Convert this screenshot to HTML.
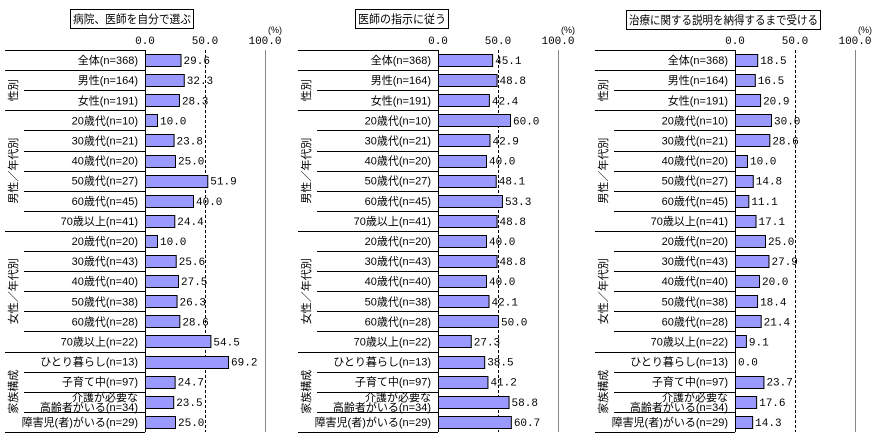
<!DOCTYPE html>
<html><head><meta charset="utf-8">
<style>
html,body{margin:0;padding:0;background:#fff;}
svg{display:block;font-family:"Liberation Sans","Noto Sans CJK JP",sans-serif;}
</style></head>
<body>
<svg id="chart" width="876" height="441" viewBox="0 0 876 441"></svg>
<script>
const categories = ["全体(n=368)","男性(n=164)","女性(n=191)","20歳代(n=10)","30歳代(n=21)","40歳代(n=20)","50歳代(n=27)","60歳代(n=45)","70歳以上(n=41)","20歳代(n=20)","30歳代(n=43)","40歳代(n=40)","50歳代(n=38)","60歳代(n=28)","70歳以上(n=22)","ひとり暮らし(n=13)","子育て中(n=97)","介護が必要な|高齢者がいる(n=34)","障害児(者)がいる(n=29)"];
const titles = ["病院、医師を自分で選ぶ","医師の指示に従う","治療に関する説明を納得するまで受ける"];
const series1 = [29.6,32.3,28.3,10.0,23.8,25.0,51.9,40.0,24.4,10.0,25.6,27.5,26.3,28.6,54.5,69.2,24.7,23.5,25.0];
const series2 = [45.1,48.8,42.4,60.0,42.9,40.0,48.1,53.3,48.8,40.0,48.8,40.0,42.1,50.0,27.3,38.5,41.2,58.8,60.7];
const series3 = [18.5,16.5,20.9,30.0,28.6,10.0,14.8,11.1,17.1,25.0,27.9,20.0,18.4,21.4,9.1,0.0,23.7,17.6,14.3];
const tickValues = [0,50,100];
const tickLabels = ["0.0","50.0","100.0"];
const groupLabels = ["性別","男性／年代別","女性／年代別","家族構成"];
const groupStarts = [1,3,9,15];
const groupEnds = [2,8,14,18];

const svg = document.getElementById('chart');
const NS = "http://www.w3.org/2000/svg";
function mk(tag, attrs, parent){const e=document.createElementNS(NS,tag);for(const k in attrs)e.setAttribute(k,attrs[k]);(parent||svg).appendChild(e);return e;}

const offsets=[0,293,590];
const titleBoxes=[[70,9,123,19],[355,9,93,19],[626,10,194,19]];
const allSeries=[series1,series2,series3];
const top0=50, rowH=(432-50)/19;
const rowTop=i=>top0+i*rowH;

offsets.forEach((off,p)=>{
  const g=mk('g',{});
  
  
  const axis0=off+145;
  const xs=v=>axis0+v*1.2;
  const tb=titleBoxes[p];
  const tr=mk('rect',{x:tb[0]+0.5,y:tb[1]+0.5,width:tb[2],height:tb[3],fill:'#fff',stroke:'#000'},g);
  
  
  const tt=mk('text',{x:tb[0]+3,y:tb[1]+14,'font-size':'11.5',textLength:tb[2]-5,lengthAdjust:'spacingAndGlyphs',fill:'#000'},g);
  tt.textContent=titles[p];
  
  
  tickValues.forEach((v,i)=>{
    const t=mk('text',{x:xs(v),y:44,'font-size':'11','text-anchor':'middle',fill:'#000','font-family':'Liberation Mono, monospace'},g);
    t.textContent=tickLabels[i];
    
    
  });
  const u=mk('text',{x:xs(100)+10,y:33,'font-size':'9','text-anchor':'middle',fill:'#000'},g);
  u.textContent='(%)';
  
  
  const d=mk('line',{x1:xs(50)+0.5,x2:xs(50)+0.5,y1:top0,y2:432,stroke:'#000','stroke-dasharray':'3,2'},g);
  
  
  const rl=mk('line',{x1:xs(100)+0.5,x2:xs(100)+0.5,y1:top0,y2:432,stroke:'#888'},g);
  
  
  for(let i=0;i<=19;i++){
    let full = (i===0||i===1||i===3||i===9||i===15||i===19);
    const y=Math.round(rowTop(i))+0.5;
    const ln=mk('line',{x1:off+(full?5:24),x2:axis0,y1:y,y2:y,stroke:'#000'},g);
    
    
  }
  groupLabels.forEach((gl,k)=>{
    const cy=(rowTop(groupStarts[k])+rowTop(groupEnds[k]+1))/2;
    const t=mk('text',{x:off+14,y:cy,'font-size':'11','text-anchor':'middle','dominant-baseline':'central',transform:`rotate(-90 ${off+14} ${cy})`,fill:'#000'},g);
    t.textContent=gl;
    
    
  });
  categories.forEach((c,i)=>{
    const cy=rowTop(i)+rowH/2;
    const parts=c.split('|');
    parts.forEach((pt,j)=>{
      const t=mk('text',{x:off+138,y:cy+4+(parts.length>1?(j-0.5)*10:0),'font-size':'11','text-anchor':'end',fill:'#000'},g);
      t.textContent=pt;
      
      
    });
    const v=allSeries[p][i];
    const b=mk('rect',{x:axis0+0.5,y:Math.round(rowTop(i))+4.5,width:Math.max(v*1.2,0.01),height:12,fill:'#9999ff',stroke:v>0?'#000':'none'},g);
    
    
    const vt=mk('text',{x:xs(v)+3,y:cy+4,'font-size':'11',fill:'#000','font-family':'Liberation Mono, monospace'},g);
    vt.textContent=v.toFixed(1);
    
    
  });
  const ax=mk('line',{x1:axis0+0.5,x2:axis0+0.5,y1:top0,y2:432,stroke:'#000'},g);
  
  
});
</script>
</body></html>
